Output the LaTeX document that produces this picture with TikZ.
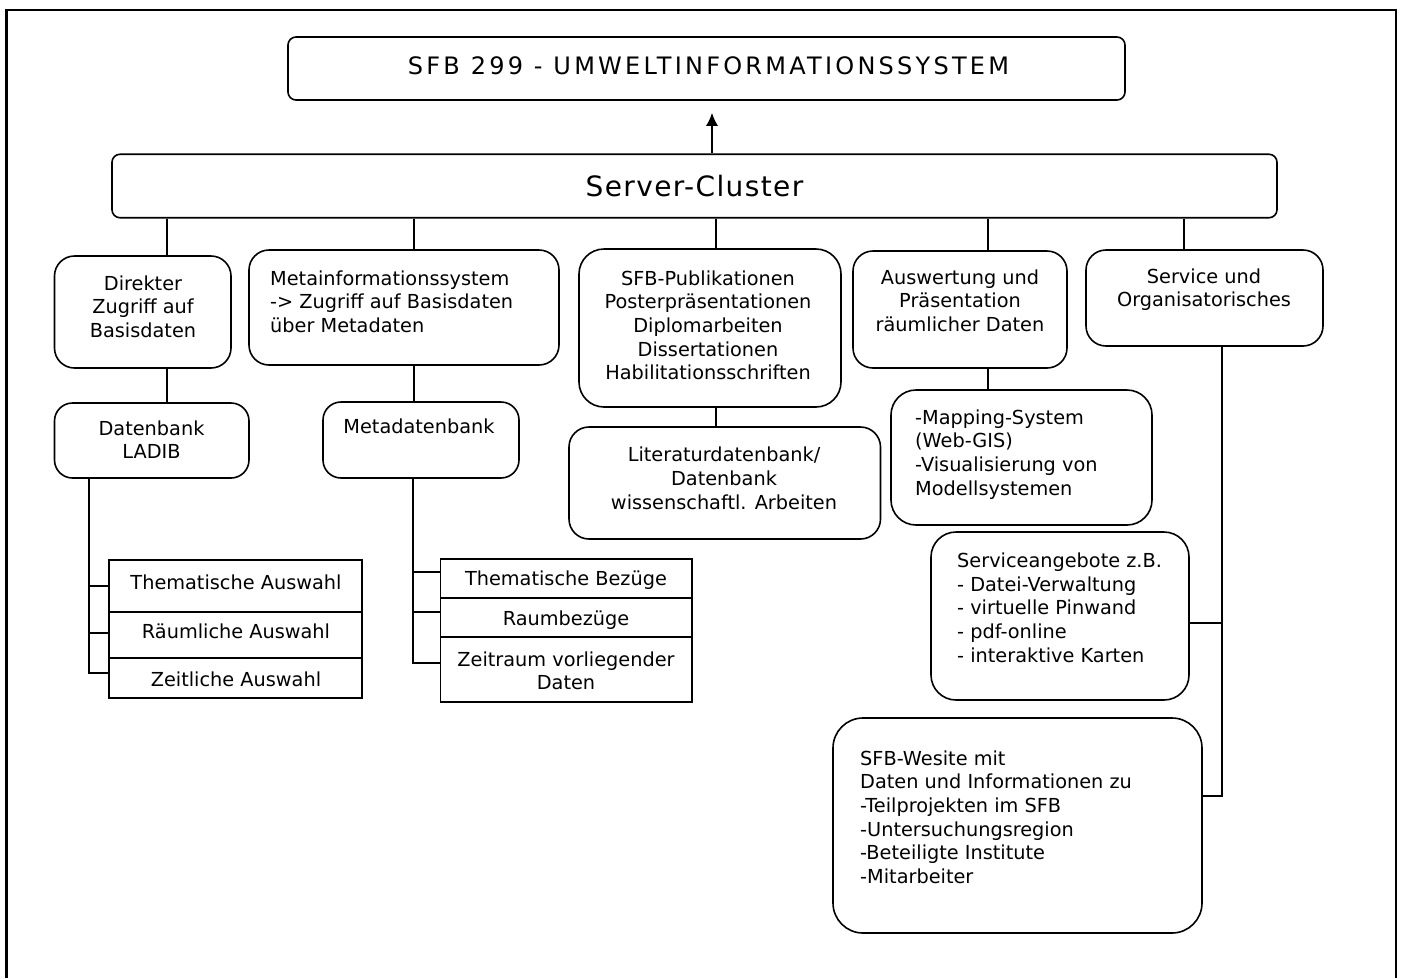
\documentclass[tikz,border=0pt]{standalone}
\usepackage{fontspec}
\setmainfont{DejaVu Sans}
\usetikzlibrary{arrows.meta}
\newcommand\bodyfnt{\fontsize{19.3}{23.7}\selectfont}
\newcommand\titlefnt{\fontsize{24}{29}\selectfont\addfontfeature{LetterSpace=13.5}}
\newcommand\clusterfnt{\fontsize{28}{34}\selectfont\addfontfeature{LetterSpace=5}}
\begin{document}
\begin{tikzpicture}[x=1pt,y=-1pt,
 rbox/.style={draw,line width=1.6pt,inner sep=0pt,rounded corners=#1},
 rbox/.default=20pt,
 cell/.style={draw,line width=1.6pt,inner sep=0pt},
 txt/.style={inner sep=0pt,font=\bodyfnt,execute at begin node={\rule{0pt}{14.7pt}}},
 ctxt/.style={txt,align=center,anchor=north},
 ltxt/.style={txt,align=left,anchor=north west},
 conn/.style={line width=1.5pt},
 frameline/.style={line width=2.6pt}]
\useasboundingbox (0,0) rectangle (1401,978);
\draw[frameline] (6.5,978) -- (6.5,10) -- (1396,10) -- (1396,978);

% main boxes
\node[rbox=8pt, minimum width=837pt, minimum height=63pt] (top) at (706.5,68.5) {};
\node[inner sep=0pt, font=\titlefnt, anchor=base] (toptxt) at (708.5,74.5) {SFB 299 - UMWELTINFORMATIONSSYSTEM};
\node[rbox=8pt, minimum width=1165pt, minimum height=63.5pt] (server) at (694.5,186) {};
\node[inner sep=0pt, font=\clusterfnt, anchor=base] (servertxt) at (694.5,196.5) {Server-Cluster};

% first row
\node[rbox, minimum width=176.5pt, minimum height=112pt] (direkt) at (142.75,312) {};
\node[ctxt] (direkttxt) at (143,275.3) {Direkter\\Zugriff auf\\Basisdaten};
\node[rbox, minimum width=310pt, minimum height=115pt] (meta) at (404,307.5) {};
\node[ltxt] (metatxt) at (270,270.3) {Metainformationssystem\\-> Zugriff auf Basisdaten\\über Metadaten};
\node[rbox=25pt, minimum width=262pt, minimum height=158pt] (publ) at (710,328) {};
\node[ctxt] (publtxt) at (708,270.3) {SFB-Publikationen\\Posterpräsentationen\\Diplomarbeiten\\Dissertationen\\Habilitationsschriften};
\node[rbox, minimum width=214pt, minimum height=117pt] (ausw) at (960,309.5) {};
\node[ctxt] (auswtxt) at (960,269.3) {Auswertung und\\Präsentation\\räumlicher Daten};
\node[rbox, minimum width=237pt, minimum height=96pt] (serv) at (1204.5,298) {};
\node[ctxt] (servtxt) at (1204,268.3) {Service und\\Organisatorisches};

% second row
\node[rbox=18pt, minimum width=194.5pt, minimum height=75pt] (ladib) at (151.75,440.5) {};
\node[ctxt] (ladibtxt) at (151.5,420.3) {Datenbank\\LADIB};
\node[rbox=18pt, minimum width=196pt, minimum height=76pt] (metadb) at (421,440) {};
\node[ctxt] (metadbtxt) at (419,418.6) {Metadatenbank};
\node[rbox, minimum width=311.5pt, minimum height=112pt] (litdb) at (724.75,483) {};
\node[ctxt] (litdbtxt) at (724,447) {Literaturdatenbank/\\Datenbank\\wissenschaftl. Arbeiten};
\node[rbox=25pt, minimum width=261pt, minimum height=135pt] (mapping) at (1021.5,457.5) {};
\node[ltxt] (mappingtxt) at (915,409.3) {-Mapping-System\\(Web-GIS)\\-Visualisierung von\\Modellsystemen};
\node[rbox=25pt, minimum width=258pt, minimum height=168pt] (angebote) at (1060,616) {};
\node[ltxt] (angebotetxt) at (957,552.6) {Serviceangebote z.B.\\- Datei-Verwaltung\\- virtuelle Pinwand\\- pdf-online\\- interaktive Karten};
\node[rbox=30pt, minimum width=369pt, minimum height=215pt] (website) at (1017.5,825.5) {};
\node[ltxt] (websitetxt) at (860,750.3) {SFB-Wesite mit\\Daten und Informationen zu\\-Teilprojekten im SFB\\-Untersuchungsregion\\-Beteiligte Institute\\-Mitarbeiter};

% tables
\node[cell, minimum width=253pt, minimum height=52pt] (la1) at (235.5,586) {};
\node[cell, minimum width=253pt, minimum height=46pt] (la2) at (235.5,635) {};
\node[cell, minimum width=253pt, minimum height=40pt] (la3) at (235.5,678) {};
\node[ctxt] (la1txt) at (236,574.6) {Thematische Auswahl};
\node[ctxt] (la2txt) at (236,623.6) {Räumliche Auswahl};
\node[ctxt] (la3txt) at (236,672) {Zeitliche Auswahl};
\node[cell, minimum width=251.4pt, minimum height=39pt] (ra1) at (566.3,578.5) {};
\node[cell, minimum width=251.4pt, minimum height=39pt] (ra2) at (566.3,617.5) {};
\node[cell, minimum width=251.4pt, minimum height=65pt] (ra3) at (566.3,669.5) {};
\node[ctxt] (ra1txt) at (566,570.3) {Thematische Bezüge};
\node[ctxt] (ra2txt) at (566,610.3) {Raumbezüge};
\node[ctxt] (ra3txt) at (566,651.3) {Zeitraum vorliegender\\Daten};

% connector coordinates
\coordinate (xArr) at (712,0);
\coordinate (xA) at (167,0);
\coordinate (xB) at (414,0);
\coordinate (xC) at (716,0);
\coordinate (xD) at (988,0);
\coordinate (xE) at (1184,0);
\coordinate (xS) at (1222,0);
\coordinate (yA) at (0,623);
\coordinate (yW) at (0,796);
\coordinate (xL) at (89,0);
\coordinate (tL1) at (0,586);
\coordinate (tL2) at (0,633);
\coordinate (tL3) at (0,673);
\coordinate (xR) at (413,0);
\coordinate (tR1) at (0,572);
\coordinate (tR2) at (0,612);
\coordinate (tR3) at (0,663);

% connectors
\draw[conn,-{Latex[length=13pt,width=12pt]},shorten >=12pt] (xArr |- server.north) -- (xArr |- top.south);
\draw[conn] (xA |- server.south) -- (xA |- direkt.north);
\draw[conn] (xB |- server.south) -- (xB |- meta.north);
\draw[conn] (xC |- server.south) -- (xC |- publ.north);
\draw[conn] (xD |- server.south) -- (xD |- ausw.north);
\draw[conn] (xE |- server.south) -- (xE |- serv.north);
\draw[conn] (xA |- direkt.south) -- (xA |- ladib.north);
\draw[conn] (xB |- meta.south) -- (xB |- metadb.north);
\draw[conn] (xC |- publ.south) -- (xC |- litdb.north);
\draw[conn] (xD |- ausw.south) -- (xD |- mapping.north);
\draw[conn] (xS |- serv.south) -- (xS |- yW) -- (website.east |- yW);
\draw[conn] (xS |- yA) -- (angebote.east |- yA);
\draw[conn] (xL |- ladib.south) -- (xL |- tL3) -- (la3.west |- tL3);
\draw[conn] (xL |- tL1) -- (la1.west |- tL1);
\draw[conn] (xL |- tL2) -- (la2.west |- tL2);
\draw[conn] (xR |- metadb.south) -- (xR |- tR3) -- (ra3.west |- tR3);
\draw[conn] (xR |- tR1) -- (ra1.west |- tR1);
\draw[conn] (xR |- tR2) -- (ra2.west |- tR2);
\end{tikzpicture}
\end{document}
